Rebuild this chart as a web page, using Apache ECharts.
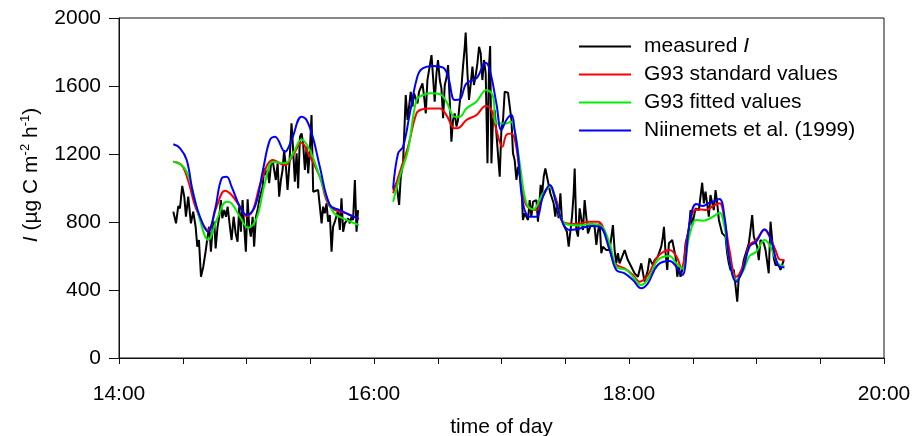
<!DOCTYPE html>
<html>
<head>
<meta charset="utf-8">
<script src="https://cdn.jsdelivr.net/npm/echarts@6/dist/echarts.min.js"></script>
<style>html,body{margin:0;padding:0;background:#fff}#c{width:920px;height:436px}</style>
</head>
<body>
<div id="c"></div>
<script>
// time of day in decimal hours, emission in µg C m-2 h-1
const xTicks = [14, 16, 18, 20];
const yTicks = [0, 400, 800, 1200, 1600, 2000];
const seriesNames = ['measured I', 'G93 standard values', 'G93 fitted values', 'Niinemets et al. (1999)'];

const measured = [
[14.426,861],[14.447,792],[14.465,894],[14.478,880],[14.496,1012],[14.512,949],[14.525,831],[14.543,949],[14.564,792],[14.582,861],[14.601,772],[14.614,655],[14.627,694],[14.643,478],[14.661,537],[14.679,625],[14.695,714],[14.708,772],[14.721,625],[14.734,763],[14.747,802],[14.758,645],[14.773,772],[14.786,831],[14.799,929],[14.810,822],[14.825,870],[14.839,831],[14.852,890],[14.870,772],[14.883,694],[14.899,831],[14.915,733],[14.930,684],[14.943,890],[14.956,743],[14.969,929],[14.982,772],[14.995,625],[15.009,933],[15.021,772],[15.034,714],[15.048,831],[15.060,655],[15.074,831],[15.087,870],[15.100,929],[15.113,969],[15.126,1008],[15.139,1115],[15.152,1076],[15.165,1106],[15.178,1028],[15.191,1135],[15.205,1165],[15.217,1106],[15.230,1047],[15.244,1145],[15.256,949],[15.270,1047],[15.283,1106],[15.295,1223],[15.309,1125],[15.322,988],[15.335,1125],[15.353,1380],[15.366,1223],[15.379,1037],[15.393,1204],[15.405,998],[15.419,1302],[15.432,1321],[15.444,1263],[15.458,1106],[15.471,1243],[15.484,1086],[15.497,1223],[15.510,1429],[15.523,978],[15.536,969],[15.562,988],[15.589,792],[15.601,890],[15.614,851],[15.628,910],[15.640,802],[15.654,841],[15.667,625],[15.679,772],[15.693,802],[15.719,870],[15.732,753],[15.745,939],[15.758,743],[15.771,792],[15.797,822],[15.810,792],[15.824,831],[15.836,812],[15.850,1047],[15.863,743],[15.875,870],
[16.0,null],
[16.150,988],[16.176,1028],[16.197,900],[16.210,1066],[16.228,1145],[16.249,1547],[16.263,1400],[16.275,1478],[16.288,1566],[16.302,1478],[16.314,1557],[16.328,1566],[16.341,1498],[16.353,1566],[16.380,1616],[16.393,1537],[16.406,1439],[16.419,1635],[16.451,1782],[16.463,1655],[16.476,1508],[16.490,1675],[16.502,1753],[16.516,1635],[16.529,1586],[16.542,1410],[16.555,1606],[16.568,1645],[16.581,1723],[16.594,1518],[16.607,1272],[16.620,1400],[16.633,1439],[16.647,1361],[16.659,1400],[16.672,1498],[16.686,1596],[16.698,1714],[16.712,1831],[16.719,1914],[16.733,1675],[16.745,1518],[16.759,1616],[16.772,1714],[16.784,1606],[16.798,1665],[16.811,1733],[16.824,1831],[16.837,1792],[16.850,1635],[16.863,1753],[16.876,1675],[16.890,1145],[16.902,1714],[16.911,1835],[16.921,1145],[16.933,1400],[16.947,1459],[16.960,1321],[16.986,1066],[16.999,1341],[17.012,1400],[17.025,1566],[17.051,1561],[17.064,1557],[17.078,1400],[17.090,1204],[17.103,1165],[17.117,1047],[17.129,1125],[17.156,1028],[17.168,812],[17.182,851],[17.208,812],[17.221,929],[17.234,831],[17.247,919],[17.274,929],[17.286,802],[17.299,929],[17.307,1018],[17.317,949],[17.331,1066],[17.344,1115],[17.357,1125],[17.383,969],[17.409,910],[17.422,831],[17.435,910],[17.448,822],[17.462,969],[17.474,812],[17.487,782],[17.513,743],[17.527,655],[17.540,743],[17.553,831],[17.566,969],[17.574,1115],[17.587,753],[17.600,714],[17.613,880],[17.639,753],[17.652,929],[17.678,733],[17.705,792],[17.730,772],[17.744,665],[17.756,743],[17.770,792],[17.783,616],[17.795,655],[17.822,635],[17.848,635],[17.874,782],[17.887,635],[17.900,557],[17.913,616],[17.926,557],[17.966,635],[17.991,576],[18.018,537],[18.044,498],[18.070,478],[18.096,557],[18.122,449],[18.136,439],[18.148,518],[18.161,586],[18.175,596],[18.187,547],[18.201,576],[18.226,596],[18.253,655],[18.266,714],[18.274,772],[18.287,616],[18.300,518],[18.313,675],[18.339,694],[18.365,596],[18.379,478],[18.391,537],[18.404,478],[18.430,557],[18.444,675],[18.469,753],[18.483,870],[18.496,782],[18.522,880],[18.548,870],[18.574,1031],[18.587,910],[18.600,978],[18.626,831],[18.639,959],[18.665,870],[18.679,988],[18.692,910],[18.705,812],[18.731,733],[18.757,714],[18.770,616],[18.783,557],[18.796,518],[18.822,518],[18.849,331],[18.861,478],[18.888,527],[18.900,576],[18.940,675],[18.953,753],[18.966,841],[18.979,714],[19.005,655],[19.018,576],[19.031,694],[19.057,675],[19.071,635],[19.096,498],[19.110,802],[19.136,586],[19.149,547],[19.175,547],[19.188,518],[19.214,576]
];

const g93Standard = [
[14.426,1155],[14.491,1135],[14.541,1047],[14.609,870],[14.700,753],[14.766,890],[14.831,984],[14.883,959],[14.948,890],[15.001,835],[15.050,870],[15.118,1047],[15.209,1165],[15.301,1135],[15.366,1194],[15.432,1266],[15.484,1204],[15.575,1066],[15.654,890],[15.784,851],[15.881,818],
[16.0,null],
[16.150,969],[16.216,1125],[16.267,1243],[16.333,1439],[16.372,1462],[16.437,1468],[16.516,1468],[16.568,1429],[16.633,1351],[16.672,1357],[16.725,1400],[16.803,1429],[16.876,1482],[16.921,1459],[16.960,1341],[17.007,1243],[17.038,1312],[17.078,1321],[17.111,1263],[17.143,1086],[17.182,919],[17.234,874],[17.274,870],[17.325,950],[17.378,1008],[17.430,929],[17.482,802],[17.587,788],[17.691,802],[17.756,802],[17.822,714],[17.887,557],[17.966,527],[18.031,488],[18.083,449],[18.148,488],[18.226,596],[18.318,635],[18.371,600],[18.410,530],[18.462,733],[18.514,870],[18.567,874],[18.606,870],[18.658,894],[18.710,910],[18.749,812],[18.788,635],[18.841,478],[18.893,537],[18.945,665],[18.998,694],[19.063,753],[19.102,714],[19.154,625],[19.180,580],[19.219,576]
];

const g93Fitted = [
[14.426,1155],[14.504,1125],[14.556,1047],[14.635,812],[14.700,694],[14.766,812],[14.844,919],[14.883,910],[14.948,831],[15.013,766],[15.079,822],[15.144,1028],[15.209,1155],[15.301,1145],[15.366,1204],[15.432,1286],[15.497,1223],[15.575,1066],[15.679,861],[15.784,812],[15.881,782],
[16.0,null],
[16.150,919],[16.202,1066],[16.267,1223],[16.333,1518],[16.385,1547],[16.437,1557],[16.516,1553],[16.568,1508],[16.633,1419],[16.672,1419],[16.725,1468],[16.803,1508],[16.882,1576],[16.933,1541],[16.960,1380],[17.038,1380],[17.072,1390],[17.103,1341],[17.143,1145],[17.195,910],[17.247,874],[17.325,969],[17.378,1008],[17.430,910],[17.495,792],[17.608,780],[17.691,788],[17.770,782],[17.848,675],[17.900,537],[17.979,518],[18.031,478],[18.096,429],[18.161,480],[18.226,576],[18.318,600],[18.371,557],[18.418,527],[18.475,724],[18.527,812],[18.579,808],[18.658,831],[18.710,855],[18.749,772],[18.788,576],[18.841,459],[18.893,508],[18.945,600],[18.998,625],[19.063,694],[19.102,665],[19.180,547],[19.219,541]
];

const niinemets = [
[14.426,1257],[14.478,1235],[14.531,1165],[14.580,970],[14.635,830],[14.697,743],[14.752,870],[14.805,1057],[14.844,1066],[14.883,1008],[14.948,890],[15.001,841],[15.066,890],[15.129,1106],[15.183,1282],[15.223,1302],[15.301,1213],[15.353,1282],[15.432,1419],[15.471,1400],[15.523,1292],[15.575,1125],[15.654,900],[15.732,870],[15.810,841],[15.881,818],
[16.0,null],
[16.150,998],[16.189,1204],[16.228,1243],[16.281,1439],[16.333,1635],[16.372,1698],[16.463,1718],[16.542,1708],[16.581,1655],[16.633,1518],[16.672,1521],[16.725,1616],[16.803,1645],[16.876,1737],[16.908,1694],[16.960,1498],[16.999,1341],[17.038,1400],[17.078,1429],[17.103,1341],[17.129,1204],[17.168,910],[17.221,831],[17.274,831],[17.325,949],[17.378,1018],[17.430,910],[17.482,792],[17.535,753],[17.587,757],[17.705,776],[17.770,772],[17.848,635],[17.900,518],[17.966,498],[18.031,459],[18.096,410],[18.148,439],[18.226,547],[18.318,570],[18.371,537],[18.418,488],[18.475,792],[18.527,906],[18.579,894],[18.618,910],[18.658,919],[18.710,935],[18.749,831],[18.788,576],[18.841,449],[18.893,518],[18.945,655],[18.998,684],[19.063,757],[19.115,694],[19.154,576],[19.180,537],[19.219,533]
];

const colors = ['#000000', '#ff0000', '#00ee00', '#0000ff'];
const FONT = 'Liberation Sans, Arial, sans-serif';
const FS = 21;

const chart = echarts.init(document.getElementById('c'), null, {renderer: 'canvas'});

function lineSeries(name, data, color, smooth, width) {
  return {
    name: name, type: 'line', data: data, symbol: 'none', showSymbol: false,
    smooth: smooth, connectNulls: false,
    lineStyle: {color: color, width: width}, itemStyle: {color: color},
    emphasis: {disabled: true}, z: 2
  };
}

chart.setOption({
  animation: false,
  grid: {left: 119, right: 36, top: 18, bottom: 78, containLabel: false, outerBoundsMode: 'none',
         show: true, borderColor: '#111', borderWidth: 1, backgroundColor: 'transparent'},
  legend: {
    orient: 'vertical', left: 574, top: 31, itemWidth: 52, itemHeight: 2, itemGap: 7,
    icon: 'rect',
    data: seriesNames,
    formatter: function (n) { return n === 'measured I' ? '{n|measured }{i|I}' : '{n|' + n + '}'; },
    textStyle: {
      fontFamily: FONT, fontSize: FS, color: '#000', lineHeight: 21, padding: [0, 0, 0, 8],
      rich: {
        n: {fontFamily: FONT, fontSize: FS, color: '#000'},
        i: {fontFamily: FONT, fontSize: FS, color: '#000', fontStyle: 'italic'}
      }
    }
  },
  xAxis: {
    type: 'value', min: 14, max: 20, interval: 0.5,
    name: 'time of day', nameLocation: 'middle', nameGap: 59,
    nameTextStyle: {fontFamily: FONT, fontSize: FS, color: '#000'},
    axisLine: {show: true, lineStyle: {color: '#111', width: 1}},
    axisTick: {show: true, length: 6, lineStyle: {color: '#111'}},
    axisLabel: {
      margin: 26, fontFamily: FONT, fontSize: FS, color: '#000', showMaxLabel: true, showMinLabel: true,
      formatter: function (v) { return xTicks.indexOf(v) >= 0 ? v + ':00' : ''; }
    },
    splitLine: {show: false}
  },
  yAxis: {
    type: 'value', min: 0, max: 2000, interval: 400,
    name: '{i|I} (µg C m{s|-2} h{s|-1})', nameLocation: 'middle', nameGap: 76, nameRotate: 90,
    nameTextStyle: {
      fontFamily: FONT, fontSize: FS, color: '#000', padding: [0, 0, 0, 26],
      rich: {
        i: {fontFamily: FONT, fontSize: FS, fontStyle: 'italic', color: '#000', lineHeight: 24},
        s: {fontFamily: FONT, fontSize: 13, color: '#000', verticalAlign: 'top', lineHeight: 24, padding: [0, 0, 8, 0]}
      }
    },
    axisLine: {show: true, lineStyle: {color: '#111', width: 1}},
    axisTick: {show: true, length: 10, lineStyle: {color: '#111'}},
    axisLabel: {
      margin: 18, fontFamily: FONT, fontSize: FS, color: '#000',
      formatter: function (v) { return yTicks.indexOf(v) >= 0 ? String(v) : ''; }
    },
    splitLine: {show: false}
  },
  series: [
    lineSeries(seriesNames[0], measured, colors[0], false, 2),
    lineSeries(seriesNames[1], g93Standard, colors[1], 0.4, 2),
    lineSeries(seriesNames[2], g93Fitted, colors[2], 0.4, 2),
    lineSeries(seriesNames[3], niinemets, colors[3], 0.4, 2)
  ]
});
</script>
</body>
</html>
